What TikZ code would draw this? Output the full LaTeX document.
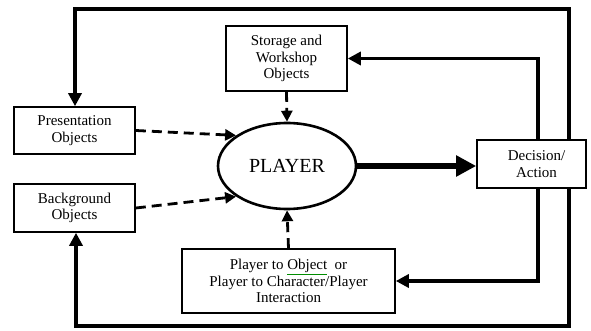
\documentclass[tikz,border=0pt]{standalone}
\usepackage{fontspec}
\setmainfont{Liberation Serif}
\usetikzlibrary{arrows.meta,shapes.geometric}
\begin{document}
\begin{tikzpicture}[x=1pt,y=-1pt,
  box/.style={draw,line width=1.6pt,rectangle,inner sep=0pt,align=center,
    font=\fontsize{15}{16.5}\selectfont},
  loopline/.style={line width=3.6pt,-{Triangle[length=13pt,width=13pt]}},
  dashline/.style={line width=2.8pt,dash pattern=on 10pt off 6pt,
    -{Triangle[length=11pt,width=11pt]}},
  thickline/.style={line width=6pt,-{Triangle[length=20pt,width=20pt]}}]
\useasboundingbox (0,0) rectangle (591,331);
\node[box,minimum width=121pt,minimum height=47pt] (pres) at (74.5,130.5) {Presentation\\Objects};
\node[box,minimum width=121pt,minimum height=48pt] (bg) at (74.5,208) {Background\\Objects};
\node[box,minimum width=121pt,minimum height=65pt] (sto) at (286.5,58.5) {Storage and\\Workshop\\Objects};
\node[box,minimum width=213pt,minimum height=64pt] (int) at (288.5,281)
  {Player to {\color{green!55!black}\underline{\color{black}Object}}\ \ or\\Player to Character/Player\\Interaction};
\node[box,minimum width=109pt,minimum height=48pt] (dec) at (531.5,164) {\hspace{10pt}Decision/\\\hspace{10pt}Action};
\node[draw,ellipse,line width=2.6pt,minimum width=138pt,minimum height=86pt,inner sep=0pt,
  font=\fontsize{20}{22}\selectfont] (pl) at (287,166) {PLAYER};
\coordinate (tr) at (569,9);
\coordinate (tl) at (75,9);
\coordinate (br) at (569,326);
\coordinate (bl) at (76,326);
\coordinate (sr) at (538,58);
\draw[loopline] (dec.north -| tr) -- (tr) -- (tl) -- (pres.north -| tl);
\draw[loopline] (dec.south -| br) -- (br) -- (bl) -- (bg.south -| bl);
\draw[loopline] (dec.north -| sr) |- (sto.east);
\draw[loopline] (dec.south -| sr) |- (int.east);
\draw[thickline] (pl.east) -- (pl.east -| dec.west);
\draw[dashline] (sto.south) -- (pl.north);
\draw[dashline] (int.north) -- (pl.south);
\draw[dashline] (pres.east) -- (pl.149);
\draw[dashline] (bg.east) -- (pl.211);
\end{tikzpicture}
\end{document}
